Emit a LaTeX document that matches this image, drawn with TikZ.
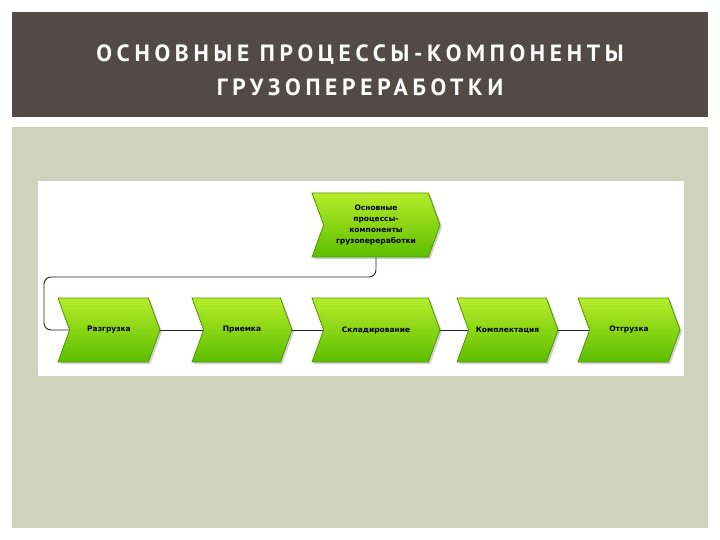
\documentclass[tikz,border=0pt]{standalone}
\usepackage{fontspec}
\setmainfont{DejaVu Sans}
\newfontfamily\titlefont[LetterSpace=20]{PT Sans}
\usetikzlibrary{shapes.symbols,shadows}
\definecolor{bandgrey}{HTML}{534A48}
\definecolor{panelgreen}{HTML}{D0D3BC}
\definecolor{procedge}{HTML}{4C9A00}
\definecolor{proctop}{HTML}{B6EC2A}
\definecolor{procbot}{HTML}{5CBE00}
\tikzset{
  proc/.style={signal, signal to=east, signal from=west, signal pointer angle=140,
    draw=procedge, line width=0.8pt, top color=proctop, bottom color=procbot,
    drop shadow={opacity=0.35, shadow xshift=2pt, shadow yshift=-2pt},
    minimum height=64pt, inner sep=0pt, align=center,
    font=\bfseries\fontsize{7.5}{11}\selectfont},
  link/.style={draw=black!85, line width=0.9pt}
}
\begin{document}
\begin{tikzpicture}[x=1pt, y=-1pt]
        \useasboundingbox (0,0) rectangle (720,540);
        \fill[white] (0,0) rectangle (720,540);

        % Заголовок
        \fill[bandgrey] (12,12) rectangle (708,117);
        \node[text=white, align=center, font=\titlefont\bfseries\fontsize{23.5}{34}\selectfont] (title) at (360,70)
          {ОСНОВНЫЕ ПРОЦЕССЫ-КОМПОНЕНТЫ\\ГРУЗОПЕРЕРАБОТКИ};

        % Поле
        \fill[panelgreen] (12,127) rectangle (708,528);
        \fill[white] (38,181) rectangle (684,376);

        % Процессы
        \node[proc, minimum width=128pt] (main) at (376,225) {Основные\\процессы-\\компоненты\\грузопереработки};
        \node[proc, minimum width=102pt] (unload) at (109,330) {Разгрузка};
        \node[proc, minimum width=100pt] (accept) at (242,330) {Приемка};
        \node[proc, minimum width=128pt] (store) at (376,330) {Складирование};
        \node[proc, minimum width=101pt] (pick) at (507.5,330) {Комплектация};
        \node[proc, minimum width=102pt] (ship) at (629,330) {Отгрузка};

        % Связи
        \coordinate (bend) at (44,277);
        \draw[link, rounded corners=7pt] (main.south) |- (bend) |- (unload.west);
        \draw[link] (unload.east) -- (accept.west);
        \draw[link] (accept.east) -- (store.west);
        \draw[link] (store.east) -- (pick.west);
        \draw[link] (pick.east) -- (ship.west);
\end{tikzpicture}
\end{document}
